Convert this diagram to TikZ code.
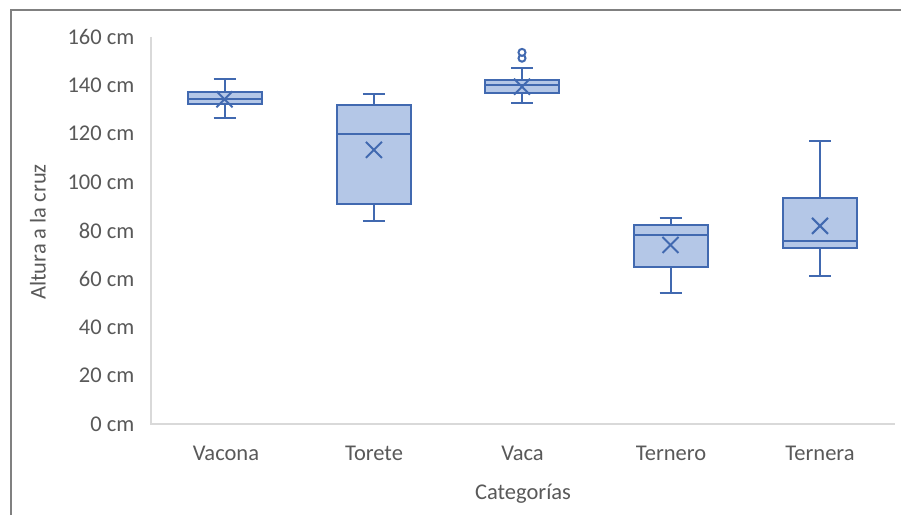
\documentclass[tikz,border=0pt]{standalone}
\usepackage{fontspec}
\setmainfont{Carlito}
\definecolor{txt}{HTML}{595959}
\definecolor{axisgray}{HTML}{D9D9D9}
\definecolor{framegray}{HTML}{808080}
\definecolor{boxblue}{HTML}{4169B0}
\definecolor{boxfillc}{HTML}{B4C7E7}
\tikzset{
  boxline/.style={draw=boxblue, line width=2pt},
  boxfill/.style={boxline, fill=boxfillc},
  lbl/.style={text=txt, font=\fontsize{22.5}{26}\selectfont, inner sep=0pt},
  ticklbl/.style={lbl, anchor=east},
}
\newcommand\bwbox[7]{%
  \draw[boxline] (#1,#2) -- (#1,#3);
  \draw[boxline] (#1,#5) -- (#1,#6);
  \draw[boxline] (#1-11,#2) -- (#1+11,#2);
  \draw[boxline] (#1-11,#6) -- (#1+11,#6);
  \filldraw[boxfill] (#1-37,#3) rectangle (#1+37,#5);
  \draw[boxline] (#1-37,#4) -- (#1+37,#4);
  \draw[boxline] ([shift={(-8pt,-8pt)}]#1,#7) -- ([shift={(8pt,8pt)}]#1,#7);
  \draw[boxline] ([shift={(-8pt,8pt)}]#1,#7) -- ([shift={(8pt,-8pt)}]#1,#7);
}
\begin{document}
\begin{tikzpicture}[x=1pt,y=1pt]
\useasboundingbox (0,0) rectangle (901,515);
\fill[white] (0,0) rectangle (901,515);
% frame
\draw[framegray, line width=2pt] (10.5,0) -- (10.5,504.5) -- (901,504.5);
\begin{scope}[shift={(0,91)}, y=2.419375pt]
  % axes
  \coordinate (o) at (151,0);
  \coordinate (ytop) at (151,160);
  \coordinate (xend) at (895,0);
  \draw[axisgray, line width=1.5pt] (ytop) -- (o) -- (xend);
  % tick labels
  \foreach \v in {0,20,...,160} {
    \node[ticklbl] (t\v) at (134.5,\v) {\v\ cm};
  }
  % boxes: cx, whisker low, q1, median, q3, whisker high, mean
  \bwbox{224.5}{126.4}{132.2}{134.4}{137.2}{142.7}{134.2}
  \bwbox{373.9}{84.0}{90.8}{119.9}{131.9}{136.4}{113.3}
  \bwbox{522}{132.6}{137.0}{140.1}{142.2}{147.0}{139.4}
  \bwbox{670.5}{54.3}{65.0}{78.1}{82.3}{85.0}{74.0}
  \bwbox{820}{61.2}{72.6}{75.8}{93.3}{117.1}{81.9}
  % outliers
  \draw[boxline, fill=white] (522,151.2) circle (3.5pt);
  \draw[boxline, fill=white] (522,153.6) circle (3.5pt);
\end{scope}
% category labels
\node[lbl] (c1) at (226,62) {Vacona};
\node[lbl] (c2) at (374,62) {Torete};
\node[lbl] (c3) at (522.5,62) {Vaca};
\node[lbl] (c4) at (671,62) {Ternero};
\node[lbl] (c5) at (820,62) {Ternera};
\node[lbl] (xt) at (523,21) {Categorías};
\node[lbl, rotate=90] (yt) at (38,283) {Altura a la cruz};
\end{tikzpicture}
\end{document}
